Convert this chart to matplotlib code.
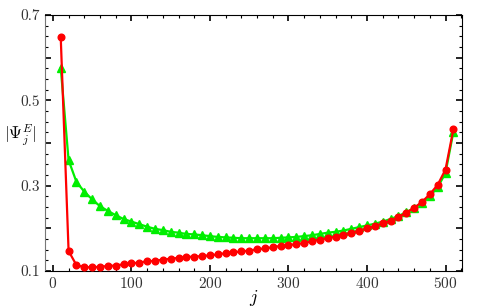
import numpy as np
import matplotlib
matplotlib.use("Agg")
import matplotlib.pyplot as plt
from matplotlib.ticker import MultipleLocator, FuncFormatter

plt.rcParams['font.family'] = 'serif'
plt.rcParams['font.serif'] = ['cmr10', 'DejaVu Serif']
plt.rcParams['mathtext.fontset'] = 'cm'
plt.rcParams['axes.formatter.use_mathtext'] = True

# site index j
j = np.arange(10, 511, 10)

# red circles
psi_red = [0.648, 0.147, 0.114, 0.109, 0.109, 0.110, 0.112, 0.113, 0.116, 0.118,
           0.120, 0.123, 0.124, 0.127, 0.129, 0.131, 0.133, 0.134, 0.135, 0.137,
           0.139, 0.142, 0.144, 0.146, 0.148, 0.151, 0.153, 0.156, 0.159, 0.161,
           0.163, 0.166, 0.170, 0.174, 0.177, 0.181, 0.185, 0.190, 0.194, 0.200,
           0.205, 0.212, 0.218, 0.226, 0.237, 0.248, 0.262, 0.280, 0.302, 0.338,
           0.432]

# green triangles
psi_green = [0.576, 0.360, 0.309, 0.286, 0.268, 0.252, 0.241, 0.231, 0.222, 0.216,
             0.210, 0.204, 0.199, 0.196, 0.192, 0.190, 0.187, 0.186, 0.184, 0.182,
             0.180, 0.179, 0.178, 0.177, 0.177, 0.177, 0.177, 0.177, 0.178, 0.179,
             0.180, 0.182, 0.184, 0.187, 0.190, 0.192, 0.195, 0.199, 0.203, 0.207,
             0.211, 0.216, 0.222, 0.229, 0.238, 0.248, 0.260, 0.276, 0.296, 0.330,
             0.426]

fig = plt.figure(figsize=(4.79, 3.07), dpi=100)
ax = fig.add_axes([0.094, 0.117, 0.8705, 0.834])

ax.plot(j, psi_green, c='#00ee00', lw=1.6, marker='^', ms=5.2, zorder=2)
ax.plot(j, psi_red, c='#ff0000', lw=1.6, marker='o', ms=4.8, zorder=3)

ax.set_xlim(-10, 521)
ax.set_ylim(0.1, 0.7)

ax.xaxis.set_major_locator(MultipleLocator(100))
ax.xaxis.set_minor_locator(MultipleLocator(20))
ax.yaxis.set_major_locator(MultipleLocator(0.1))
ax.yaxis.set_minor_locator(MultipleLocator(0.025))
ax.yaxis.set_major_formatter(FuncFormatter(
    lambda v, p: '%.1f' % v if round(v * 10) % 2 == 1 else ''))

ax.tick_params(which='both', direction='in', top=True, right=True,
               labelsize=11, labelcolor='#333333')
ax.tick_params(which='major', length=4, width=1.2)
ax.tick_params(which='minor', length=2, width=0.8)
ax.spines['left'].set_color('#777777')

ax.set_xlabel(r'$j$', fontsize=13, labelpad=-2)
ax.set_ylabel(r'$|\Psi_j^E|$', fontsize=12, rotation=0, va='center', ha='center')
ax.yaxis.set_label_coords(-0.06, 0.535)

fig.savefig('out.png', dpi=100)
